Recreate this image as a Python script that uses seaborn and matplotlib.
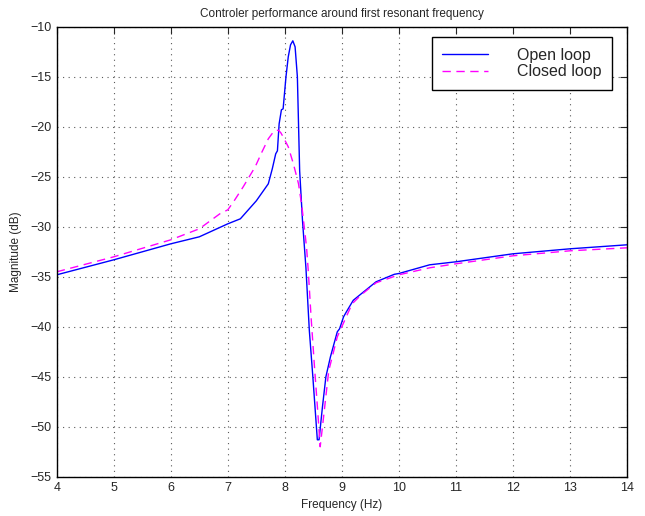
import seaborn as sns
import matplotlib.pyplot as plt
import pandas as pd

# Data
freq_open = [4.0, 5.0, 6.0, 6.5, 7.0, 7.22, 7.5, 7.71, 7.78, 7.84, 7.87, 7.90, 7.94, 7.97,
             8.02, 8.06, 8.10, 8.14, 8.18, 8.22, 8.26, 8.31, 8.37, 8.43, 8.49, 8.57, 8.60,
             8.66, 8.72, 8.80, 8.92, 8.96, 9.03, 9.08, 9.20, 9.34, 9.60, 9.92, 10.0, 10.54,
             11.0, 12.0, 13.0, 14.0]
mag_open = [-34.8, -33.3, -31.7, -31.0, -29.7, -29.2, -27.4, -25.7, -24.2, -22.7, -22.4,
            -19.7, -18.3, -18.2, -15.0, -13.0, -11.8, -11.4, -12.0, -15.0, -24.4, -29.4,
            -34.1, -40.4, -44.9, -51.3, -51.3, -48.0, -45.0, -43.0, -40.5, -40.2, -39.0,
            -38.5, -37.35, -36.7, -35.5, -34.75, -34.67, -33.8, -33.5, -32.7, -32.2, -31.8]

freq_closed = [4.0, 5.0, 6.0, 6.5, 6.86, 7.0, 7.10, 7.27, 7.48, 7.60, 7.71, 7.80, 7.85,
               7.89, 7.93, 7.97, 8.06, 8.15, 8.24, 8.30, 8.38, 8.41, 8.46, 8.52, 8.58,
               8.62, 8.66, 8.77, 8.92, 9.18, 9.34, 9.60, 10.0, 10.54, 11.0, 12.0, 13.0, 14.0]
mag_closed = [-34.5, -33.0, -31.3, -30.2, -28.7, -28.3, -27.5, -26.0, -24.0, -22.5, -21.2,
              -20.5, -20.35, -20.35, -20.6, -21.0, -22.0, -23.7, -25.7, -28.0, -32.0, -34.3,
              -39.0, -44.0, -48.7, -52.0, -50.0, -44.4, -41.0, -37.7, -36.8, -35.6, -34.8,
              -34.1, -33.7, -32.9, -32.4, -32.1]

x_ticks = list(range(4, 15))
y_ticks = list(range(-55, -9, 5))

df_open = pd.DataFrame({'freq': freq_open, 'mag': mag_open})
df_closed = pd.DataFrame({'freq': freq_closed, 'mag': mag_closed})

sns.set_style('white')
plt.rcParams['font.family'] = ['Liberation Sans', 'DejaVu Sans']
plt.rcParams['axes.unicode_minus'] = True

fig = plt.figure(figsize=(6.45, 5.16), dpi=100)
ax = fig.add_axes([0.088, 0.076, 0.884, 0.872])

sns.lineplot(data=df_open, x='freq', y='mag', ax=ax, color='#0000ff', linewidth=1.0,
             estimator=None, sort=False, label='Open loop')
sns.lineplot(data=df_closed, x='freq', y='mag', ax=ax, color='#ff00ff', linewidth=1.0,
             estimator=None, sort=False, label='Closed loop', dashes=False)
ax.lines[1].set_dashes([6, 4])

ax.set_xlim(4, 14)
ax.set_ylim(-55, -10)
ax.set_xticks(x_ticks)
ax.set_yticks(y_ticks)
ax.tick_params(direction='in', top=True, right=True, length=5, width=0.8,
               labelsize=9, pad=4)
ax.grid(True, linestyle=(0, (1, 4)), color='0.35', linewidth=0.8)
for s in ax.spines.values():
    s.set_linewidth(1.0)
    s.set_color('black')

ax.set_title('Controler performance around first resonant frequency', fontsize=8.5, pad=7)
ax.set_xlabel('Frequency (Hz)', fontsize=8.5, labelpad=3)
ax.set_ylabel('Magnitude (dB)', fontsize=8.5, labelpad=6)

leg = ax.legend(loc='upper right', bbox_to_anchor=(0.974, 0.977), fontsize=11.5,
                frameon=True, fancybox=False, edgecolor='black', framealpha=1,
                handlelength=2.9, handletextpad=1.8, borderpad=0.65, labelspacing=0.12,
                borderaxespad=0)
leg.get_frame().set_linewidth(1.0)

fig.savefig('out.png', dpi=100)
